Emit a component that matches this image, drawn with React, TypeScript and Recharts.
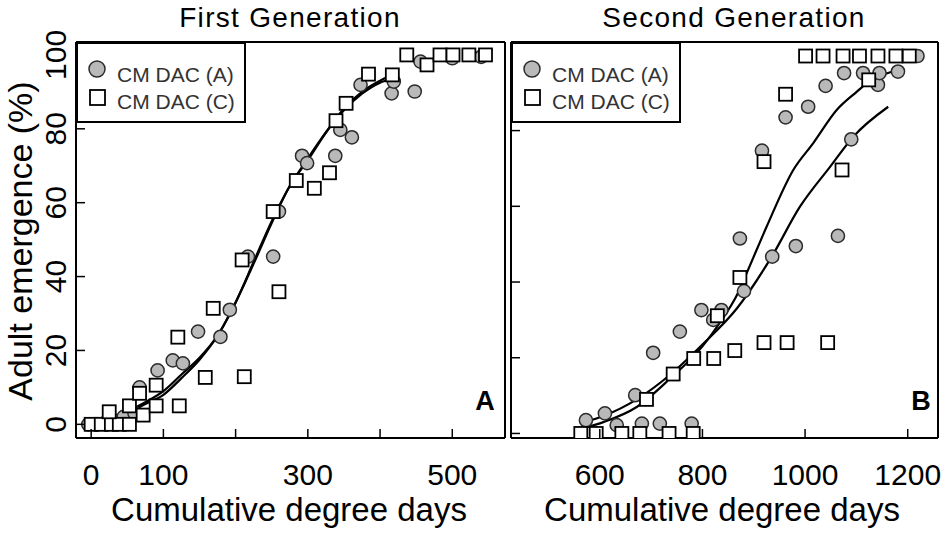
import { ComposedChart, Legend, Line, Scatter, XAxis, YAxis } from 'recharts';

const FONT = '"Liberation Sans", Arial, sans-serif';

const seriesNames = ['CM DAC (A)', 'CM DAC (C)'];
const yTicks = [0, 20, 40, 60, 80, 100];

// first generation
const gen1XTicks = [0, 100, 200, 300, 400, 500];
const gen1XLabels = [0, 100, 300, 500];

const gen1A = [
  { x: -4, y: 0 }, { x: 8, y: 0 }, { x: 20, y: 0.5 }, { x: 32, y: 1 }, { x: 45, y: 2 },
  { x: 60, y: 3 }, { x: 67, y: 10 }, { x: 92, y: 14.6 }, { x: 113, y: 17.3 },
  { x: 127, y: 16.5 }, { x: 148, y: 25.1 }, { x: 179, y: 23.7 }, { x: 192, y: 31 },
  { x: 217, y: 45.4 }, { x: 252, y: 45.4 }, { x: 260, y: 57.6 }, { x: 292, y: 72.7 },
  { x: 299, y: 70.7 }, { x: 338, y: 72.7 }, { x: 345, y: 79.7 }, { x: 361, y: 77.7 },
  { x: 373, y: 91.9 }, { x: 416, y: 89.6 }, { x: 419, y: 92.8 }, { x: 448, y: 90.1 },
  { x: 456, y: 98.2 }, { x: 500, y: 99.1 }, { x: 540, y: 99.5 },
];

const gen1C = [
  { x: 0, y: 0 }, { x: 14, y: 0 }, { x: 28, y: 0 }, { x: 39, y: 0 }, { x: 53, y: 0 },
  { x: 25, y: 3.4 }, { x: 53, y: 5 }, { x: 72, y: 2.5 }, { x: 90, y: 5 }, { x: 67, y: 8.4 },
  { x: 90, y: 10.6 }, { x: 122, y: 5 }, { x: 158, y: 12.7 }, { x: 120, y: 23.6 },
  { x: 169, y: 31.4 }, { x: 212, y: 12.9 }, { x: 209, y: 44.5 }, { x: 252, y: 57.6 },
  { x: 260, y: 35.9 }, { x: 284, y: 66 }, { x: 309, y: 63.9 }, { x: 330, y: 68.1 },
  { x: 339, y: 82.2 }, { x: 353, y: 86.9 }, { x: 384, y: 94.8 }, { x: 417, y: 94.6 },
  { x: 437, y: 100 }, { x: 465, y: 97.3 }, { x: 483, y: 100 }, { x: 501, y: 100 },
  { x: 523, y: 100 }, { x: 546, y: 100 },
];

const gen1FitA = [
  { x: 0, y: 0.3 }, { x: 25, y: 1.5 }, { x: 50, y: 3.5 }, { x: 75, y: 6 }, { x: 100, y: 9 },
  { x: 125, y: 13.5 }, { x: 150, y: 18 }, { x: 175, y: 24 }, { x: 200, y: 33 },
  { x: 225, y: 43.5 }, { x: 250, y: 54.5 }, { x: 275, y: 64.5 }, { x: 300, y: 71.5 },
  { x: 325, y: 79 }, { x: 350, y: 85.5 }, { x: 375, y: 90 }, { x: 400, y: 93 }, { x: 410, y: 94 },
];

const gen1FitC = [
  { x: 0, y: 0.3 }, { x: 25, y: 1.2 }, { x: 50, y: 3 }, { x: 75, y: 5.5 }, { x: 100, y: 8 },
  { x: 125, y: 12.5 }, { x: 150, y: 17.5 }, { x: 175, y: 24 }, { x: 200, y: 33 },
  { x: 225, y: 44 }, { x: 250, y: 55 }, { x: 275, y: 64.5 }, { x: 300, y: 72 },
  { x: 325, y: 79 }, { x: 350, y: 85 }, { x: 375, y: 89.5 }, { x: 400, y: 92.5 }, { x: 415, y: 93.5 },
];

// second generation
const gen2XTicks = [600, 800, 1000, 1200];

const gen2A = [
  { x: 573, y: 3.5 }, { x: 610, y: 5.3 }, { x: 633, y: 2.2 }, { x: 669, y: 10.1 },
  { x: 682, y: 2.6 }, { x: 704, y: 21.3 }, { x: 717, y: 2.6 }, { x: 756, y: 26.9 },
  { x: 779, y: 2.6 }, { x: 798, y: 32.6 }, { x: 821, y: 30 }, { x: 837, y: 32.6 },
  { x: 873, y: 51.5 }, { x: 881, y: 37.6 }, { x: 916, y: 74.7 }, { x: 936, y: 46.7 },
  { x: 962, y: 83.5 }, { x: 982, y: 49.5 }, { x: 1006, y: 86.3 }, { x: 1040, y: 91.8 },
  { x: 1064, y: 52.2 }, { x: 1076, y: 95.2 }, { x: 1090, y: 77.7 }, { x: 1113, y: 95.2 },
  { x: 1142, y: 92.1 }, { x: 1145, y: 95.2 }, { x: 1181, y: 95.6 }, { x: 1219, y: 99.7 },
];

const gen2C = [
  { x: 563, y: 0 }, { x: 593, y: 0 }, { x: 643, y: 0 }, { x: 678, y: 0 }, { x: 735, y: 0 },
  { x: 782, y: 0 }, { x: 691, y: 9 }, { x: 743, y: 15.7 }, { x: 783, y: 19.8 },
  { x: 822, y: 19.8 }, { x: 863, y: 21.9 }, { x: 920, y: 24 }, { x: 965, y: 24 },
  { x: 1044, y: 24 }, { x: 829, y: 31.1 }, { x: 873, y: 41.2 }, { x: 920, y: 71.8 },
  { x: 962, y: 89.6 }, { x: 1072, y: 69.6 }, { x: 1124, y: 93.4 }, { x: 1001, y: 99.7 },
  { x: 1035, y: 99.7 }, { x: 1074, y: 99.7 }, { x: 1106, y: 99.7 }, { x: 1142, y: 99.7 },
  { x: 1177, y: 99.7 }, { x: 1203, y: 99.7 },
];

const gen2FitA = [
  { x: 571, y: 1.5 }, { x: 607, y: 3 }, { x: 672, y: 7 }, { x: 737, y: 14.5 }, { x: 800, y: 23 },
  { x: 835, y: 29.5 }, { x: 867, y: 36.5 }, { x: 886, y: 42.3 }, { x: 925, y: 54.6 },
  { x: 977, y: 69.6 }, { x: 1016, y: 76.7 }, { x: 1062, y: 85.5 }, { x: 1101, y: 90.3 },
  { x: 1120, y: 92.5 }, { x: 1185, y: 96 },
];

const gen2FitC = [
  { x: 571, y: 3 }, { x: 607, y: 4.6 }, { x: 672, y: 9 }, { x: 737, y: 15.5 }, { x: 800, y: 23.5 },
  { x: 867, y: 33 }, { x: 935, y: 46.7 }, { x: 990, y: 59.9 }, { x: 1049, y: 70.5 },
  { x: 1094, y: 78.4 }, { x: 1162, y: 86.3 },
];

const circleShape = (p: any) => (
  <circle cx={p.cx} cy={p.cy} r={6.6} fill="#b9b9b9" stroke="#2b2b2b" strokeWidth={1.5} />
);

const squareShape = (p: any) => (
  <rect x={p.cx - 6.5} y={p.cy - 6.5} width={13} height={13} fill="#fff" stroke="#000" strokeWidth={1.8} />
);

function BottomTick(props: any) {
  const { x, y, payload, labels } = props;
  const show = labels.includes(payload.value);
  return (
    <g>
      <line x1={x} x2={x} y1={y} y2={y - 9} stroke="#000" strokeWidth={1.5} />
      {show && (
        <text x={x} y={y + 47} textAnchor="middle" fontSize={30} fontFamily={FONT} fill="#000">
          {payload.value}
        </text>
      )}
    </g>
  );
}

function LeftTick(props: any) {
  const { x, y, payload, showLabel } = props;
  const tx = x - 10;
  return (
    <g>
      <line x1={x} x2={x + 9} y1={y} y2={y} stroke="#000" strokeWidth={1.5} />
      {showLabel && (
        <text
          x={tx}
          y={y}
          transform={`rotate(-90 ${tx} ${y})`}
          textAnchor="middle"
          fontSize={30}
          fontFamily={FONT}
          fill="#000"
        >
          {payload.value}
        </text>
      )}
    </g>
  );
}

function LegendBox() {
  return (
    <svg width={170} height={81} style={{ display: 'block' }}>
      <rect x={1} y={1} width={168} height={79} fill="#fff" stroke="#000" strokeWidth={2} />
      <circle cx={21} cy={27} r={8} fill="#b9b9b9" stroke="#2b2b2b" strokeWidth={1.5} />
      <text x={41} y={39.5} fontSize={21} fontFamily={FONT} fill="#333">
        {seriesNames[0]}
      </text>
      <rect x={14} y={48} width={15} height={15} fill="#fff" stroke="#000" strokeWidth={1.8} />
      <text x={41} y={67} fontSize={21} fontFamily={FONT} fill="#333">
        {seriesNames[1]}
      </text>
    </svg>
  );
}

type PanelProps = {
  left: number;
  width: number;
  marginLeft: number;
  marginRight: number;
  yAxisWidth: number;
  xDomain: number[];
  yDomain: number[];
  xTicks: number[];
  xLabels: number[];
  showYLabels: boolean;
  pointsA: { x: number; y: number }[];
  pointsC: { x: number; y: number }[];
  fitA: { x: number; y: number }[];
  fitC: { x: number; y: number }[];
};

function Panel(p: PanelProps) {
  return (
    <div style={{ position: 'absolute', left: p.left, top: 0 }}>
      <ComposedChart
        width={p.width}
        height={533}
        margin={{ top: 41, right: p.marginRight, bottom: 0, left: p.marginLeft }}
      >
        <XAxis
          dataKey="x"
          type="number"
          domain={p.xDomain}
          allowDataOverflow
          ticks={p.xTicks}
          interval={0}
          height={95}
          tickSize={0}
          tickMargin={0}
          tickLine={false}
          axisLine={{ stroke: '#000', strokeWidth: 2 }}
          tick={(t: any) => <BottomTick {...t} labels={p.xLabels} />}
        />
        <XAxis
          xAxisId="top"
          orientation="top"
          type="number"
          domain={[0, 1]}
          height={1}
          tick={false}
          tickLine={false}
          axisLine={{ stroke: '#000', strokeWidth: 2 }}
        />
        <YAxis
          dataKey="y"
          type="number"
          domain={p.yDomain}
          allowDataOverflow
          ticks={yTicks}
          interval={0}
          width={p.yAxisWidth}
          tickSize={0}
          tickMargin={0}
          tickLine={false}
          axisLine={{ stroke: '#000', strokeWidth: 2 }}
          tick={(t: any) => <LeftTick {...t} showLabel={p.showYLabels} />}
        />
        <YAxis
          yAxisId="right"
          orientation="right"
          type="number"
          domain={[0, 1]}
          width={1}
          tick={false}
          tickLine={false}
          axisLine={{ stroke: '#000', strokeWidth: 2 }}
        />
        <Legend
          layout="horizontal"
          verticalAlign="middle"
          align="center"
          wrapperStyle={{ left: p.yAxisWidth + p.marginLeft, top: 42, width: 170, height: 81 }}
          content={() => <LegendBox />}
        />
        <Scatter name={seriesNames[0]} data={p.pointsA} shape={circleShape} isAnimationActive={false} />
        <Scatter name={seriesNames[1]} data={p.pointsC} shape={squareShape} isAnimationActive={false} />
        <Line
          data={p.fitA}
          dataKey="y"
          type="monotone"
          stroke="#000"
          strokeWidth={2.2}
          dot={false}
          activeDot={false}
          legendType="none"
          isAnimationActive={false}
        />
        <Line
          data={p.fitC}
          dataKey="y"
          type="monotone"
          stroke="#000"
          strokeWidth={2.2}
          dot={false}
          activeDot={false}
          legendType="none"
          isAnimationActive={false}
        />
      </ComposedChart>
    </div>
  );
}

export default function App() {
  return (
    <div
      style={{
        position: 'absolute',
        left: 0,
        top: 0,
        width: 945,
        height: 533,
        background: '#fff',
        fontFamily: FONT,
      }}
    >
      <Panel
        left={0}
        width={510}
        marginLeft={26}
        marginRight={4}
        yAxisWidth={50}
        xDomain={[-21, 573]}
        yDomain={[-3.7, 103.5]}
        xTicks={gen1XTicks}
        xLabels={gen1XLabels}
        showYLabels
        pointsA={gen1A}
        pointsC={gen1C}
        fitA={gen1FitA}
        fitC={gen1FitC}
      />
      <Panel
        left={505}
        width={440}
        marginLeft={0}
        marginRight={6}
        yAxisWidth={6}
        xDomain={[427, 1259]}
        yDomain={[-1.2, 103.4]}
        xTicks={gen2XTicks}
        xLabels={gen2XTicks}
        showYLabels={false}
        pointsA={gen2A}
        pointsC={gen2C}
        fitA={gen2FitA}
        fitC={gen2FitC}
      />
      <svg
        width={945}
        height={533}
        style={{ position: 'absolute', left: 0, top: 0, pointerEvents: 'none' }}
        fontFamily={FONT}
      >
        <text x={290} y={27} textAnchor="middle" fontSize={28} letterSpacing={1.3}>First Generation</text>
        <text x={734} y={27} textAnchor="middle" fontSize={28} letterSpacing={1.3}>Second Generation</text>
        <text x={289} y={521} textAnchor="middle" fontSize={33}>Cumulative degree days</text>
        <text x={722} y={521} textAnchor="middle" fontSize={33}>Cumulative degree days</text>
        <text x={32} y={241} textAnchor="middle" fontSize={34} transform="rotate(-90 32 241)">
          Adult emergence (%)
        </text>
        <text x={485} y={410} textAnchor="middle" fontSize={27} fontWeight="bold">A</text>
        <text x={921} y={410} textAnchor="middle" fontSize={27} fontWeight="bold">B</text>
      </svg>
    </div>
  );
}
